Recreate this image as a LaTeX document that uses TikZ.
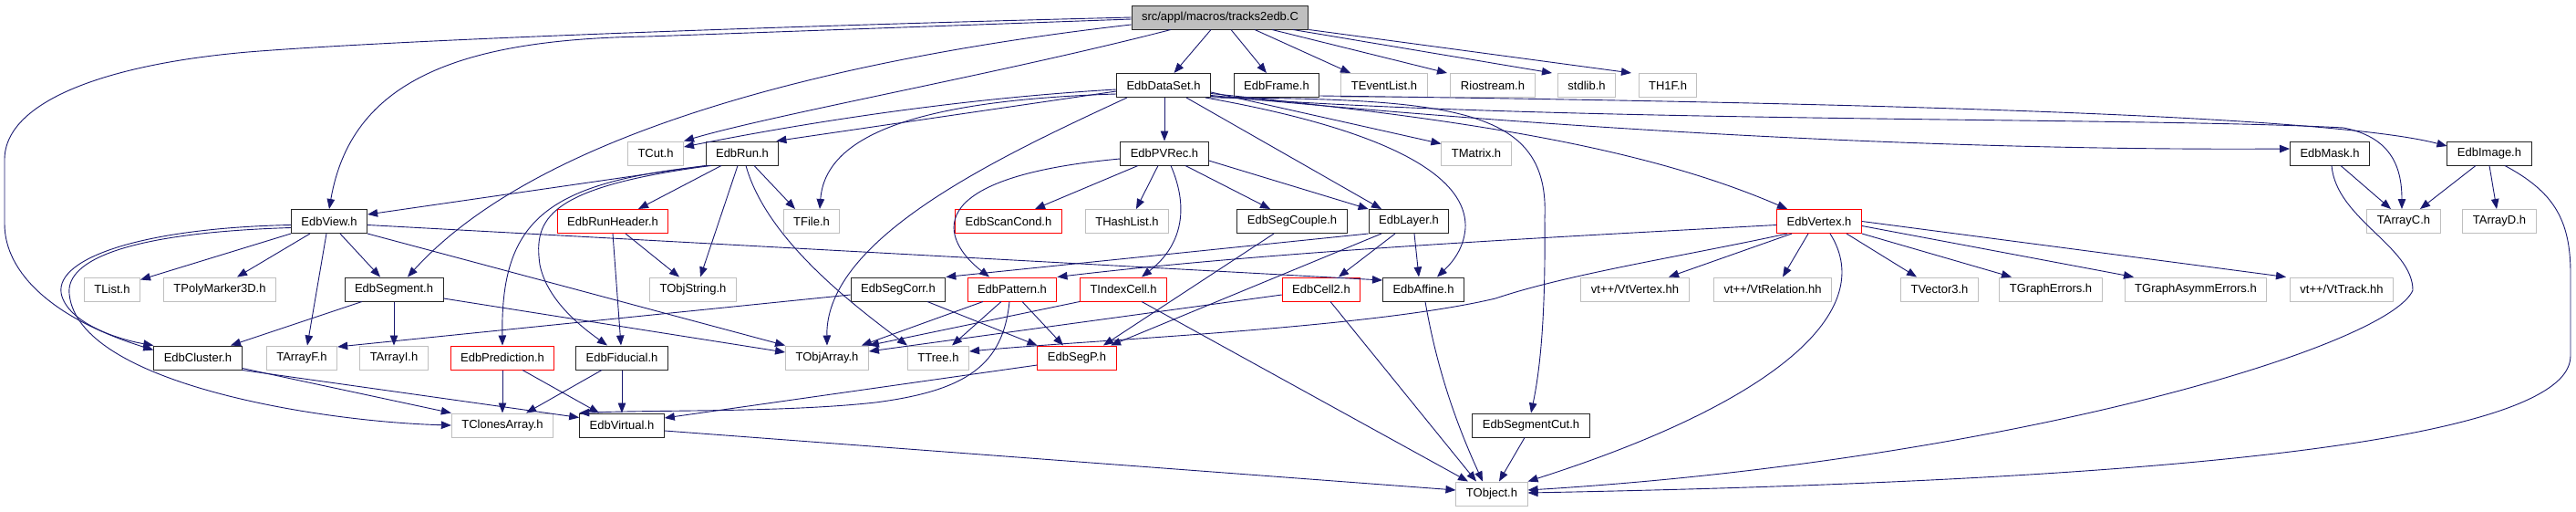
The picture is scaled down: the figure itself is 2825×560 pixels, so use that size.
\documentclass[tikz,border=0pt]{standalone}
\usepackage{fontspec}
\setmainfont{Liberation Sans}
\usetikzlibrary{arrows.meta}
\definecolor{edgec}{HTML}{191970}
\definecolor{grayb}{HTML}{BFBFBF}
\definecolor{redb}{HTML}{FF0000}
\definecolor{topfill}{HTML}{BFBFBF}
\begin{document}
\begin{tikzpicture}[x=1pt,y=-1pt,
  base/.style={draw, line width=1pt, minimum height=26pt, inner xsep=11pt, inner ysep=0pt, font=\fontsize{13}{15}\selectfont, fill=white},
  bbox/.style={base, draw=black!85},
  gbox/.style={base, draw=grayb},
  rbox/.style={base, draw=redb},
  tbox/.style={base, draw=black!85, fill=topfill},
  dep/.style={draw=edgec, line width=0.9pt, -{Triangle[length=11pt,width=8.5pt]}},
]
\useasboundingbox (0,0) rectangle (2825,560);
\fill[white] (0,0) rectangle (2825,560);

% row 0
\node[tbox] (T) at (1338,19) {src/appl/macros/tracks2edb.C};
% row 1
\node[bbox] (D) at (1276,93.5) {EdbDataSet.h};
\node[bbox] (Frame) at (1400,93.5) {EdbFrame.h};
\node[gbox] (TEventList) at (1518,93.5) {TEventList.h};
\node[gbox] (Riostream) at (1637,93.5) {Riostream.h};
\node[gbox] (stdlib) at (1740,93.5) {stdlib.h};
\node[gbox] (TH1F) at (1829,93.5) {TH1F.h};
% row 2
\node[gbox] (TCut) at (719,168) {TCut.h};
\node[bbox] (R) at (814,168) {EdbRun.h};
\node[bbox] (P) at (1277,168) {EdbPVRec.h};
\node[gbox] (TMatrix) at (1619,168) {TMatrix.h};
\node[bbox] (Mask) at (2555,168) {EdbMask.h};
\node[bbox] (Image) at (2730,168) {EdbImage.h};
% row 3
\node[bbox] (EV) at (361,242.5) {EdbView.h};
\node[rbox] (RH) at (672,242.5) {EdbRunHeader.h};
\node[gbox] (TFile) at (890,242.5) {TFile.h};
\node[rbox] (ScanCond) at (1106,242.5) {EdbScanCond.h};
\node[gbox] (THashList) at (1236,242.5) {THashList.h};
\node[bbox] (SegCouple) at (1417,242.5) {EdbSegCouple.h};
\node[bbox] (L) at (1545,242.5) {EdbLayer.h};
\node[rbox] (V) at (1995,242.5) {EdbVertex.h};
\node[gbox] (TArrayC) at (2636,242.5) {TArrayC.h};
\node[gbox] (TArrayD) at (2741,242.5) {TArrayD.h};
% row 4
\node[gbox] (TList) at (123,317) {TList.h};
\node[gbox] (TPoly) at (241,317) {TPolyMarker3D.h};
\node[bbox] (S) at (432,317) {EdbSegment.h};
\node[gbox] (TObjString) at (760,317) {TObjString.h};
\node[bbox] (SegCorr) at (985,317) {EdbSegCorr.h};
\node[rbox] (EPa) at (1110,317) {EdbPattern.h};
\node[rbox] (TI) at (1232,317) {TIndexCell.h};
\node[rbox] (C2) at (1449,317) {EdbCell2.h};
\node[bbox] (A) at (1561,317) {EdbAffine.h};
\node[gbox] (VtVertex) at (1793,317) {vt++/VtVertex.hh};
\node[gbox] (VtRelation) at (1944,317) {vt++/VtRelation.hh};
\node[gbox] (TVector3) at (2127,317) {TVector3.h};
\node[gbox] (TGraphErrors) at (2249,317) {TGraphErrors.h};
\node[gbox] (TGraphAsymm) at (2408,317) {TGraphAsymmErrors.h};
\node[gbox] (VtTrack) at (2568,317) {vt++/VtTrack.hh};
% row 5
\node[bbox] (C) at (217,392) {EdbCluster.h};
\node[gbox] (TArrayF) at (331,392) {TArrayF.h};
\node[gbox] (TArrayI) at (432,392) {TArrayI.h};
\node[rbox] (EP) at (551,392) {EdbPrediction.h};
\node[bbox] (F) at (682,392) {EdbFiducial.h};
\node[gbox] (TObjArray) at (907,392) {TObjArray.h};
\node[gbox] (TTree) at (1029,392) {TTree.h};
\node[rbox] (SP) at (1181,392) {EdbSegP.h};
% row 6
\node[gbox] (TCA) at (551,466) {TClonesArray.h};
\node[bbox] (EVi) at (682,466) {EdbVirtual.h};
\node[bbox] (SCt) at (1679,466) {EdbSegmentCut.h};
% row 7
\node[gbox] (TObject) at (1636,541) {TObject.h};

% ---- edges from top node
\draw[dep] ([xshift=-10pt]T.south) -- (D);
\draw[dep] ([xshift=12pt]T.south) -- (Frame);
\draw[dep] ([xshift=38pt]T.south) -- ([xshift=-37pt]TEventList.north);
\draw[dep] ([xshift=57pt]T.south) -- ([xshift=-50pt]Riostream.north);
\draw[dep] ([xshift=80pt]T.south) -- ([xshift=-38pt]stdlib.north);
\draw[dep] (T.south east) -- ([xshift=-40pt]TH1F.north);
\draw[dep] ([xshift=-54pt]T.south) .. controls (1100,80) and (850,125) .. (TCut.north east);
\draw[dep] ([yshift=-8pt]T.west) .. controls (950,60) and (600,135) .. ([xshift=15pt]S.north);
\draw[dep] ([yshift=-2pt]T.west) -- (710,40) .. controls (500,43) and (385,90) .. (EV.north);
\draw[dep] (T.west) .. controls (800,30) and (420,45) .. (272,57) .. controls (120,70) and (5,110) .. (5,175) -- (5,245) .. controls (5,300) and (60,350) .. ([yshift=-5pt]C.north west);

% ---- EdbDataSet
\draw[dep] ([yshift=-4.5pt]D.west) .. controls (1050,108) and (880,135) .. ([yshift=7pt]TCut.east);
\draw[dep] ([yshift=-6.5pt]D.west) -- ([xshift=-3pt]R.north east);
\draw[dep] ([yshift=-9.5pt]D.west) .. controls (1000,110) and (905,150) .. ([xshift=9pt]TFile.north);
\draw[dep] ([xshift=-40pt]D.south) .. controls (1100,170) and (905,260) .. (TObjArray.north);
\draw[dep] (D.south -| P.north) -- (P.north);
\draw[dep] ([xshift=25pt]D.south) -- ([xshift=-30pt]L.north);
\draw[dep] ([xshift=-6pt]D.south east) .. controls (1480,135) and (1610,180) .. (1607,250) .. controls (1605,275) and (1590,290) .. ([xshift=15pt]A.north);
\draw[dep] ([yshift=-7.5pt]D.east) -- ([yshift=-3pt]TMatrix.north west);
\draw[dep] ([yshift=-9pt]D.east) .. controls (1600,130) and (1800,160) .. ([xshift=-35pt]V.north);
\draw[dep] (D.south east) .. controls (1600,108) and (1700,120) .. (1694,240) .. controls (1695,340) and (1690,400) .. (SCt.north);
\draw[dep] ([yshift=-11pt]D.east) .. controls (1800,150) and (2200,165) .. ([yshift=5pt]Mask.west);
\draw[dep] ([yshift=-12pt]D.east) .. controls (1700,135) and (2350,128) .. (2570,140) .. controls (2620,150) and (2634,180) .. ([xshift=-2pt]TArrayC.north);

% ---- EdbFrame
\draw[dep] ([yshift=2pt]Frame.south east) .. controls (2000,112) and (2550,125) .. ([yshift=8pt]Image.west);

% ---- EdbMask / EdbImage
\draw[dep] ([xshift=12pt]Mask.south) -- ([xshift=-14pt]TArrayC.north);
\draw[dep] ([xshift=2pt]Mask.south) .. controls (2562,240) and (2646,270) .. (2646,318) .. controls (2620,380) and (2200,505) .. ([yshift=4pt]TObject.east);
\draw[dep] ([xshift=-15pt]Image.south) -- ([xshift=18pt]TArrayC.north);
\draw[dep] (Image.south) -- ([xshift=-3pt]TArrayD.north);
\draw[dep] ([xshift=17pt]Image.south) .. controls (2800,210) and (2819,240) .. (2819,300) -- (2819,390) .. controls (2819,500) and (2200,530) .. ([yshift=1pt]TObject.east);

% ---- EdbPVRec
\draw[dep] ([xshift=-29pt]P.south) -- ([xshift=29pt]ScanCond.north);
\draw[dep] ([xshift=-7pt]P.south) -- ([xshift=10pt]THashList.north);
\draw[dep] ([xshift=23pt]P.south) -- ([xshift=-24pt]SegCouple.north);
\draw[dep] ([yshift=-8pt]P.east) -- (L.north west);
\draw[dep] ([yshift=-6pt]P.west) .. controls (1000,195) and (1035,265) .. ([xshift=-25pt]EPa.north);
\draw[dep] ([xshift=7pt]P.south) .. controls (1305,230) and (1295,270) .. ([xshift=20pt]TI.north);

% ---- EdbRun
\draw[dep] (R.south west) -- ([yshift=7.5pt]EV.east);
\draw[dep] ([xshift=-23pt]R.south) -- ([xshift=28pt]RH.north);
\draw[dep] ([xshift=13pt]R.south) -- ([xshift=-18pt]TFile.north);
\draw[dep] ([xshift=-5pt]R.south) -- ([xshift=8pt]TObjString.north);
\draw[dep] ([xshift=4pt]R.south) .. controls (840,260) and (930,330) .. (TTree.north west);
\draw[dep] ([xshift=3pt]R.south west) .. controls (600,200) and (549,240) .. (EP.north);
\draw[dep] ([xshift=6pt]R.south west) .. controls (600,205) and (585,240) .. (592,290) .. controls (600,330) and (640,360) .. ([xshift=-16pt]F.north);

% ---- EdbRunHeader
\draw[dep] (RH.south) -- ([xshift=-1pt]F.north);
\draw[dep] ([xshift=14pt]RH.south) -- ([xshift=-15pt]TObjString.north);

% ---- EdbView
\draw[dep] ([xshift=-42pt]EV.south) -- ([yshift=-3pt]TList.north east);
\draw[dep] ([xshift=-21pt]EV.south) -- ([xshift=19pt]TPoly.north);
\draw[dep] ([xshift=12pt]EV.south) -- ([xshift=-15pt]S.north);
\draw[dep] ([xshift=-3pt]EV.south) -- ([xshift=6pt]TArrayF.north);
\draw[dep] (EV.south east) -- (TObjArray.north west);
\draw[dep] ([yshift=-4pt]EV.east) -- ([yshift=10pt]A.west);
\draw[dep] ([yshift=-4pt]EV.west) .. controls (150,250) and (55,285) .. (68,325) .. controls (78,355) and (130,372) .. (C.north west);
\draw[dep] ([yshift=-7pt]EV.west) .. controls (140,255) and (72,285) .. (76,322) .. controls (85,420) and (350,462) .. (TCA.west);

% ---- EdbSegment
\draw[dep] ([xshift=-35pt]S.south) -- ([xshift=36pt]C.north);
\draw[dep] (S.south) -- (TArrayI.north);
\draw[dep] ([yshift=-10pt]S.east) -- ([yshift=6pt]TObjArray.west);

% ---- EdbCluster, EdbPrediction, EdbFiducial, EdbVirtual
\draw[dep] ([yshift=2pt]C.south east) -- (TCA.north west);
\draw[dep] (C.south east) -- ([yshift=-5pt]EVi.north west);
\draw[dep] (EP.south) -- (TCA.north);
\draw[dep] ([xshift=22pt]EP.south) -- ([xshift=-25pt]EVi.north);
\draw[dep] ([xshift=-22pt]F.south) -- ([xshift=26pt]TCA.north);
\draw[dep] (F.south) -- (EVi.north);
\draw[dep] ([yshift=-6pt]EVi.east) -- ([yshift=4pt]TObject.west);

% ---- EdbSegP
\draw[dep] ([yshift=-8pt]SP.west) -- ([yshift=8pt]EVi.east);

% ---- EdbPattern
\draw[dep] ([xshift=-32pt]EPa.south) -- ([xshift=-8pt]TObjArray.north east);
\draw[dep] ([xshift=-12pt]EPa.south) -- ([xshift=15pt]TTree.north);
\draw[dep] ([xshift=11pt]EPa.south) -- ([xshift=-15pt]SP.north);
\draw[dep] ([xshift=-3pt]EPa.south) .. controls (1100,400) and (1060,428) .. (960,441) .. controls (860,452) and (720,449) .. (EVi.north west);

% ---- EdbSegCorr
\draw[dep] ([xshift=32pt]SegCorr.south) -- (SP.north west);
\draw[dep] ([yshift=-6pt]SegCorr.west) -- ([yshift=12pt]TArrayF.east);

% ---- TIndexCell, EdbCell2, EdbAffine, EdbSegmentCut, EdbSegCouple
\draw[dep] (TI.south west) -- (TObjArray.north east);
\draw[dep] ([xshift=20pt]TI.south) -- ([xshift=-26pt]TObject.north);
\draw[dep] ([xshift=10pt]C2.south) -- ([xshift=-17pt]TObject.north);
\draw[dep] ([yshift=-6pt]C2.west) -- ([yshift=7pt]TObjArray.east);
\draw[dep] ([xshift=2pt]A.south) .. controls (1575,400) and (1595,460) .. ([xshift=-10pt]TObject.north);
\draw[dep] ([xshift=-7pt]SCt.south) -- ([xshift=8pt]TObject.north);
\draw[dep] ([xshift=-20pt]SegCouple.south) -- ([xshift=29pt]SP.north);

% ---- EdbLayer
\draw[dep] (L.south west) -- (SegCorr.north east);
\draw[dep] ([xshift=-30pt]L.south) -- ([xshift=37pt]SP.north);
\draw[dep] ([xshift=-15pt]L.south) -- ([xshift=19pt]C2.north);
\draw[dep] ([xshift=6pt]L.south) -- ([xshift=-5pt]A.north);

% ---- EdbVertex
\draw[dep] ([yshift=-4pt]V.west) .. controls (1700,260) and (1400,275) .. (EPa.north east);
\draw[dep] ([xshift=-35pt]V.south) .. controls (1850,280) and (1720,300) .. (1640,327) .. controls (1500,360) and (1200,372) .. ([yshift=7pt]TTree.east);
\draw[dep] ([xshift=-30pt]V.south) -- ([xshift=37pt]VtVertex.north);
\draw[dep] ([xshift=-12pt]V.south) -- ([xshift=11pt]VtRelation.north);
\draw[dep] ([xshift=12pt]V.south) .. controls (2060,340) and (1950,440) .. (TObject.north east);
\draw[dep] ([xshift=30pt]V.south) -- ([xshift=-25pt]TVector3.north);
\draw[dep] (V.south east) -- ([xshift=-43pt]TGraphErrors.north);
\draw[dep] ([yshift=-5pt]V.east) -- ([xshift=-68pt]TGraphAsymm.north);
\draw[dep] (V.east) -- ([xshift=-61pt]VtTrack.north);
\end{tikzpicture}
\end{document}
